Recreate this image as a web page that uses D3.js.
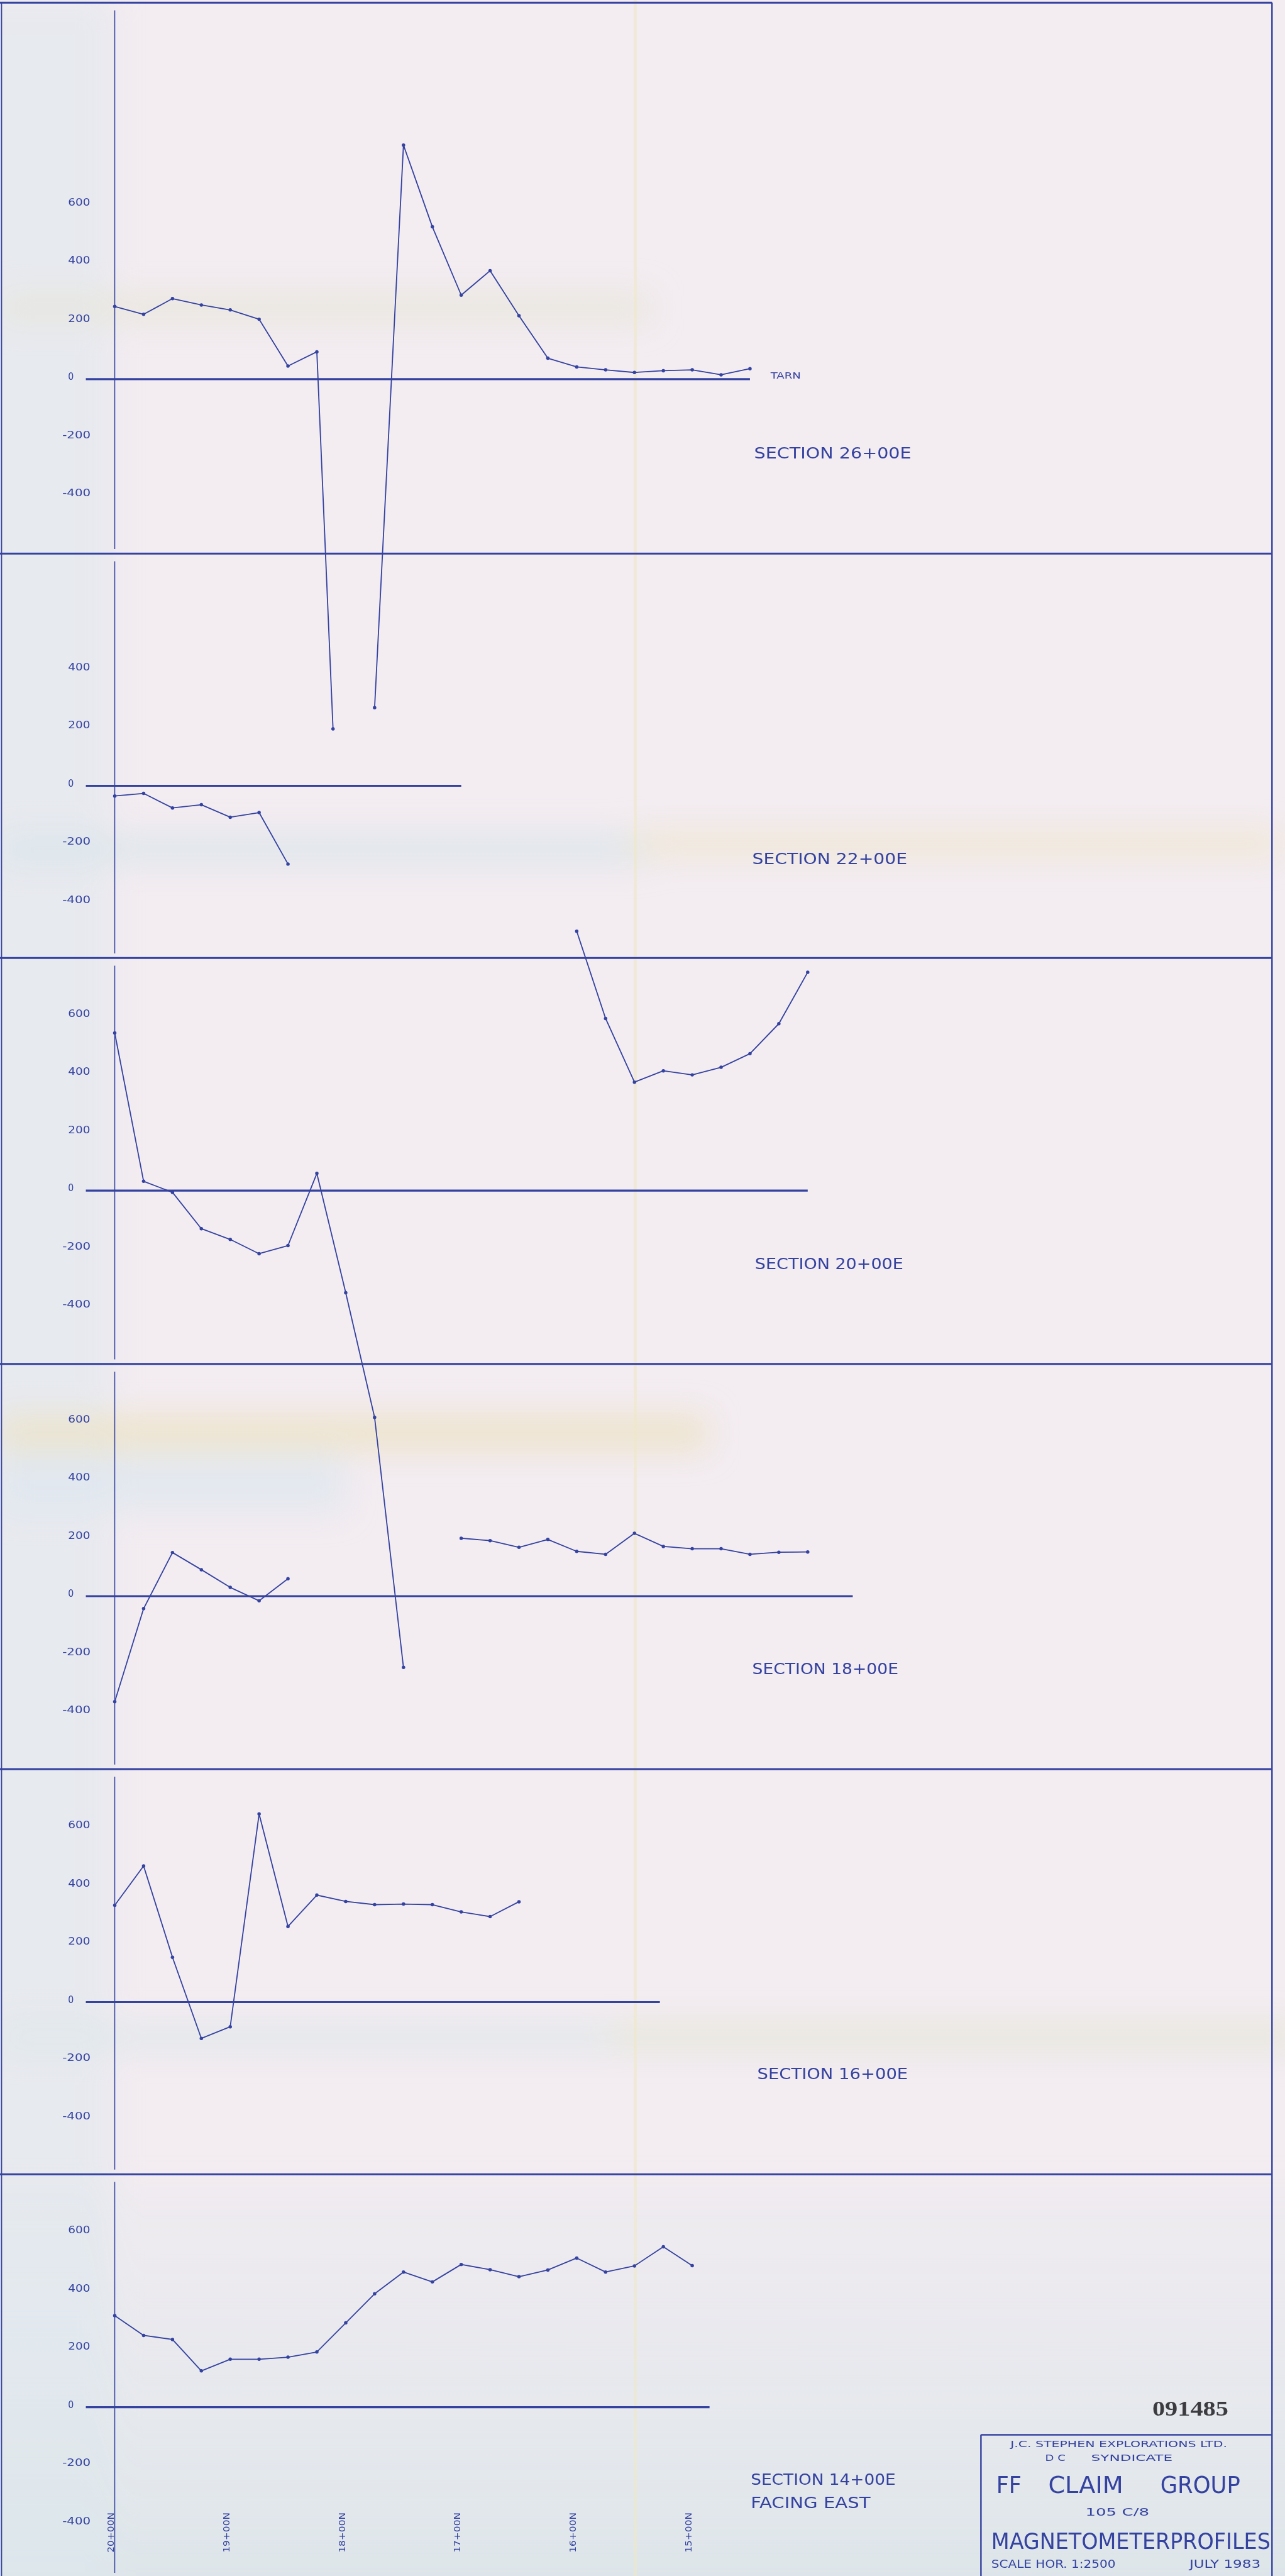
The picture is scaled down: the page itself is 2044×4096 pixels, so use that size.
<!DOCTYPE html>
<html><head><meta charset="utf-8">
<script src="https://cdn.jsdelivr.net/npm/d3@7"></script>
<style>html,body{margin:0;padding:0;background:#f3ecf1;} svg{display:block}</style>
</head><body>
<svg id="chart" width="2044" height="4096"></svg>
<script>
// ---------------- DATA ----------------
const sectionNames = ["SECTION 26+00E", "SECTION 22+00E", "SECTION 20+00E", "SECTION 18+00E", "SECTION 16+00E", "SECTION 14+00E"];
const tickLabels26 = [600, 400, 200, 0, -200, -400];
const tickLabels22 = [400, 200, 0, -200, -400];
const tickLabelsStd = [600, 400, 200, 0, -200, -400];
const stationTicks = [2000, 1900, 1800, 1700, 1600, 1500];
const stationLabels = ["20+00N", "19+00N", "18+00N", "17+00N", "16+00N", "15+00N"];

const sec26Stations = [2000, 1975, 1950, 1925, 1900, 1875, 1850, 1825, 1811, 1790, 1775, 1750, 1725, 1700, 1675, 1650, 1625, 1600, 1575, 1550, 1525, 1500, 1475, 1450];
const sec26Values   = [250, 223, 277, 255, 238, 206, 45, 94, -1203, null, -1130, 805, 524, 289, 373, 218, 72, 42, 32, 23, 29, 32, 15, 36];

const sec22Stations = [2000, 1975, 1950, 1925, 1900, 1875, 1850];
const sec22Values   = [-35, -26, -76, -65, -108, -92, -269];

const sec20Stations = [2000, 1975, 1950, 1925, 1900, 1875, 1850, 1825, 1800, 1775, 1750, 1700, 1600, 1575, 1550, 1525, 1500, 1475, 1450, 1425, 1400];
const sec20Values   = [542, 32, -6, -131, -168, -217, -189, 59, -351, -780, -1640, null, 892, 592, 373, 412, 398, 424, 471, 574, 751];

const sec18Stations = [2000, 1975, 1950, 1925, 1900, 1875, 1850, 1775, 1700, 1675, 1650, 1625, 1600, 1575, 1550, 1525, 1500, 1475, 1450, 1425, 1400];
const sec18Values   = [-363, -43, 150, 91, 30, -16, 60, null, 199, 191, 168, 195, 154, 144, 216, 171, 163, 163, 144, 151, 152];

const sec16Stations = [2000, 1975, 1950, 1925, 1900, 1875, 1850, 1825, 1800, 1775, 1750, 1725, 1700, 1675, 1650];
const sec16Values   = [333, 468, 154, -125, -85, 647, 260, 368, 346, 335, 337, 335, 310, 294, 345];

const sec14Stations = [2000, 1975, 1950, 1925, 1900, 1875, 1850, 1825, 1800, 1775, 1750, 1725, 1700, 1675, 1650, 1625, 1600, 1575, 1550, 1525, 1500];
const sec14Values   = [315, 247, 233, 125, 165, 165, 172, 190, 290, 390, 465, 431, 491, 473, 449, 472, 513, 465, 486, 552, 487];

const zeroLineEnds = [1450, 1700, 1400, 1361, 1528, 1485];
const titleLines = ["J.C. STEPHEN EXPLORATIONS LTD.", "D C", "SYNDICATE", "FF", "CLAIM", "GROUP", "105 C/8", "MAGNETOMETERPROFILES", "SCALE HOR. 1:2500", "JULY 1983"];
const stampText = "091485";

// ---------------- LAYOUT (reference pixel units) ----------------
const S = 2044 / 3360;
const INK = "#3442a0";
const W = 3326;
const tops    = [7, 1447, 2504, 3565, 4624, 5683];
const bottoms = [1447, 2504, 3565, 4624, 5683, 6734];
const zeros   = [991, 2054, 3112, 4172, 5233, 6292];
const labelY  = [1184, 2243, 3303, 4361, 5419, 6480];
const labelX  = [1972, 1967, 1974, 1967, 1980, 1963];
const labelW  = [411, 405, 388, 382, 394, 379];
const PX_PER_UNIT = 0.76;

const sections = [
  {st: sec26Stations, v: sec26Values, ticks: tickLabels26},
  {st: sec22Stations, v: sec22Values, ticks: tickLabels22},
  {st: sec20Stations, v: sec20Values, ticks: tickLabelsStd},
  {st: sec18Stations, v: sec18Values, ticks: tickLabelsStd},
  {st: sec16Stations, v: sec16Values, ticks: tickLabelsStd},
  {st: sec14Stations, v: sec14Values, ticks: tickLabelsStd},
];

const svg = d3.select("#chart");
const defs = svg.append("defs");
const blur = defs.append("filter").attr("id", "blur").attr("filterUnits", "userSpaceOnUse")
  .attr("x", -200).attr("y", -200).attr("width", 3800).attr("height", 7200);
blur.append("feGaussianBlur").attr("stdDeviation", 40);
const g = svg.append("g").attr("transform", `scale(${S})`);

// background paper
g.append("rect").attr("x", 0).attr("y", 0).attr("width", 3360).attr("height", 6734).attr("fill", "#f3ecf1");
const bg = g.append("g").attr("filter", "url(#blur)");
const grad = defs.append("linearGradient").attr("id", "bottomGrad").attr("x1", 0).attr("y1", 0).attr("x2", 0).attr("y2", 1);
grad.append("stop").attr("offset", "0").attr("stop-color", "#e4e9ee").attr("stop-opacity", 0.25);
grad.append("stop").attr("offset", "1").attr("stop-color", "#dbe5e9").attr("stop-opacity", 1);
bg.append("rect").attr("x", -100).attr("y", 5720).attr("width", 3560).attr("height", 1100).attr("fill", "url(#bottomGrad)");
bg.append("rect").attr("x", -100).attr("y", 0).attr("width", 390).attr("height", 6734).attr("fill", "#dce8ed").attr("opacity", 0.5);
[[0, 770, 1700, 70, "#e8e6da"], [0, 2185, 1700, 70, "#d9e5ea"], [1650, 2175, 1700, 60, "#eee6cf"],
 [0, 3700, 1850, 90, "#ece3c6"], [0, 3800, 900, 150, "#e0e8ee"], [0, 5290, 3400, 70, "#dfe8ea"],
 [1600, 5300, 1800, 40, "#ece6cf"]]
  .forEach(([x, y, w, h, c]) => bg.append("rect").attr("x", x).attr("y", y).attr("width", w).attr("height", h).attr("fill", c).attr("opacity", 0.85));
g.append("rect").attr("x", 1657).attr("y", 0).attr("width", 8).attr("height", 6734).attr("fill", "#efe7c8").attr("opacity", 0.6);

// frame
g.append("line").attr("x1", 0).attr("x2", W).attr("y1", 7).attr("y2", 7).attr("stroke", INK).attr("stroke-width", 5);
g.append("line").attr("x1", 4).attr("x2", 4).attr("y1", 7).attr("y2", 6734).attr("stroke", INK).attr("stroke-width", 3);
g.append("line").attr("x1", W).attr("x2", W).attr("y1", 7).attr("y2", 6734).attr("stroke", INK).attr("stroke-width", 4);
bottoms.slice(0, 5).forEach(y => g.append("line").attr("x1", 0).attr("x2", W).attr("y1", y).attr("y2", y).attr("stroke", INK).attr("stroke-width", 5));

// x scale (stations, metres north)
const x = d3.scaleLinear().domain([2000, 1000]).range([300, 3320]);

const sectionFont = "'Liberation Sans Narrow', 'DejaVu Sans Condensed', 'Liberation Sans', sans-serif";

sections.forEach((sec, i) => {
  const y = d3.scaleLinear().domain([-400, 600]).range([zeros[i] + 400 * PX_PER_UNIT, zeros[i] - 600 * PX_PER_UNIT]);
  const sg = g.append("g");
  sg.append("line").attr("x1", x(2000)).attr("x2", x(2000))
    .attr("y1", tops[i] + 20).attr("y2", i === 5 ? 6725 : bottoms[i] - 12)
    .attr("stroke", INK).attr("stroke-width", 2.5);
  sg.append("line").attr("x1", x(2025)).attr("x2", x(zeroLineEnds[i]))
    .attr("y1", y(0)).attr("y2", y(0)).attr("stroke", INK).attr("stroke-width", 5);
  sg.selectAll("text.tick").data(sec.ticks).join("text")
    .attr("class", "tick")
    .attr("x", d => d < 0 ? 163 : 178)
    .attr("y", d => y(d) + 2)
    .attr("fill", INK).attr("font-family", sectionFont).attr("font-size", 26)
    .attr("textLength", d => d === 0 ? null : (d < 0 ? 74 : 58))
    .attr("lengthAdjust", "spacingAndGlyphs")
    .text(d => d < 0 ? "-" + Math.abs(d) : String(d));
  const pts = sec.st.map((s, k) => ({s, v: sec.v[k]}));
  const line = d3.line().defined(d => d.v !== null).x(d => x(d.s)).y(d => y(d.v));
  sg.append("path").attr("d", line(pts)).attr("fill", "none").attr("stroke", INK)
    .attr("stroke-width", 3).attr("stroke-linejoin", "round");
  sg.selectAll("circle").data(pts.filter(d => d.v !== null)).join("circle")
    .attr("cx", d => x(d.s)).attr("cy", d => y(d.v)).attr("r", 4.5).attr("fill", INK);
  sg.append("text").attr("x", labelX[i]).attr("y", labelY[i] + 15)
    .attr("fill", INK).attr("font-family", sectionFont).attr("font-size", 42)
    .attr("textLength", labelW[i]).attr("lengthAdjust", "spacingAndGlyphs")
    .text(sectionNames[i]);
});

g.append("text").attr("x", 2015).attr("y", 989).attr("fill", INK).attr("font-family", sectionFont)
  .attr("font-size", 24).attr("textLength", 79).attr("lengthAdjust", "spacingAndGlyphs").text("TARN");
g.append("text").attr("x", 1963).attr("y", 6555).attr("fill", INK).attr("font-family", sectionFont)
  .attr("font-size", 42).attr("textLength", 313).attr("lengthAdjust", "spacingAndGlyphs").text("FACING EAST");

g.selectAll("text.st").data(stationTicks).join("text").attr("class", "st")
  .attr("transform", d => `translate(${x(d) - 2},6672) rotate(-90)`)
  .attr("fill", INK).attr("font-family", "'DejaVu Sans', sans-serif").attr("font-size", 24)
  .attr("textLength", 105).attr("lengthAdjust", "spacingAndGlyphs")
  .text((d, k) => stationLabels[k]);

// title block
g.append("line").attr("x1", 2565).attr("x2", 2565).attr("y1", 6364).attr("y2", 6734).attr("stroke", INK).attr("stroke-width", 4);
g.append("line").attr("x1", 2565).attr("x2", W).attr("y1", 6364).attr("y2", 6364).attr("stroke", INK).attr("stroke-width", 4);
const tb = [
  {t: titleLines[0], x: 2642, y: 6396, fs: 24, w: 567},
  {t: titleLines[1], x: 2733, y: 6432, fs: 24, w: 53},
  {t: titleLines[2], x: 2853, y: 6432, fs: 24, w: 213},
  {t: titleLines[3], x: 2605, y: 6516, fs: 60, w: 66},
  {t: titleLines[4], x: 2741, y: 6516, fs: 60, w: 196},
  {t: titleLines[5], x: 3034, y: 6516, fs: 60, w: 209},
  {t: titleLines[6], x: 2838, y: 6575, fs: 26, w: 167},
  {t: titleLines[7], x: 2592, y: 6662, fs: 58, w: 730},
  {t: titleLines[8], x: 2592, y: 6711, fs: 30, w: 325},
  {t: titleLines[9], x: 3110, y: 6711, fs: 30, w: 186},
];
g.selectAll("text.tb").data(tb).join("text").attr("class", "tb")
  .attr("x", d => d.x).attr("y", d => d.y).attr("font-size", d => d.fs)
  .attr("font-family", sectionFont).attr("fill", INK)
  .attr("textLength", d => d.w).attr("lengthAdjust", "spacingAndGlyphs")
  .text(d => d.t);
// stamp
g.append("text").attr("x", 3013).attr("y", 6314).attr("font-size", 54)
  .attr("font-family", "'Liberation Serif', 'DejaVu Serif', serif").attr("font-weight", "bold")
  .attr("fill", "#3c3c40").attr("textLength", 199).attr("lengthAdjust", "spacingAndGlyphs").text(stampText);
</script>
</body></html>
